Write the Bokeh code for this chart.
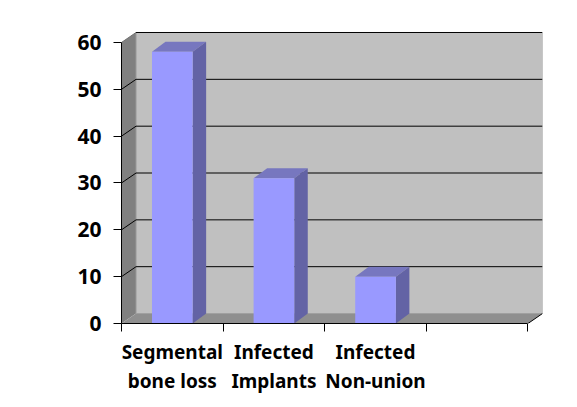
from bokeh.plotting import figure
from bokeh.models import Range1d, FixedTicker, LinearAxis
from bokeh.embed import file_html
from bokeh.resources import INLINE

categories = ["Segmental\nbone loss", "Infected\nImplants", "Infected\nNon-union"]
values = [58, 31, 10]
y_ticks = [0, 10, 20, 30, 40, 50, 60]
n_slots = 4

BAR_W = 0.4
WALL_DX = 0.143
WALL_DY = 2.13
BAR_DX = 0.133
HEAD = 0.2135

p = figure(width=565, height=397, output_backend="svg", toolbar_location=None,
           x_range=Range1d(0, n_slots + WALL_DX), y_range=Range1d(0, 60 + WALL_DY + HEAD),
           x_axis_type=None, y_axis_type=None,
           min_border_left=121, min_border_right=23, min_border_top=31, min_border_bottom=74,
           outline_line_color=None, background_fill_color="white", border_fill_color="white")
p.grid.visible = False

# walls
p.patch([0, WALL_DX, WALL_DX, 0], [0, WALL_DY, 60 + WALL_DY, 60], fill_color="#808080", line_color=None)
p.patch([0, n_slots, n_slots + WALL_DX, WALL_DX], [0, 0, WALL_DY, WALL_DY], fill_color="#8f8f8f", line_color=None)
p.patch([WALL_DX, n_slots + WALL_DX, n_slots + WALL_DX, WALL_DX],
        [WALL_DY, WALL_DY, 60 + WALL_DY, 60 + WALL_DY], fill_color="#C0C0C0", line_color=None)
p.line([n_slots + WALL_DX] * 2, [WALL_DY, 60 + WALL_DY], line_color="#a0a0a0", line_width=1)
p.line([WALL_DX] * 2, [WALL_DY, 60 + WALL_DY], line_color="#9a9a9a", line_width=1)
p.line([WALL_DX, n_slots + WALL_DX], [WALL_DY, WALL_DY], line_color="#a0a0a0", line_width=1)
p.line([0, WALL_DX], [60, 60 + WALL_DY], line_color="#707070", line_width=1)

# gridlines
for t in y_ticks[1:]:
    p.line([WALL_DX, n_slots + WALL_DX], [t + WALL_DY] * 2, line_color="black", line_width=1)
    if t < 60:
        p.line([0, WALL_DX], [t, t + WALL_DY], line_color="black", line_width=1)
p.line([n_slots, n_slots + WALL_DX], [0, WALL_DY], line_color="black", line_width=1)

# bars
for i, v in enumerate(values):
    l = i + 0.5 - BAR_W / 2
    r = i + 0.5 + BAR_W / 2
    p.patch([l, r, r + BAR_DX, l + BAR_DX], [v, v, v + WALL_DY, v + WALL_DY], fill_color="#7777BF", line_color=None)
    p.patch([r, r + BAR_DX, r + BAR_DX, r], [0, WALL_DY, v + WALL_DY, v], fill_color="#6363A5", line_color=None)
    p.patch([l, r, r, l], [0, 0, v, v], fill_color="#9999FF", line_color=None)

FONT = "Noto Sans"

ya = LinearAxis(ticker=FixedTicker(ticks=y_ticks), bounds=(0, 60))
ya.axis_line_color = "black"
ya.major_tick_line_color = "black"
ya.major_tick_out = 8
ya.major_tick_in = 0
ya.minor_tick_line_color = None
ya.major_label_standoff = 12
ya.major_label_text_font = FONT
ya.major_label_text_font_style = "bold"
ya.major_label_text_font_size = "21px"
ya.major_label_text_color = "black"
p.add_layout(ya, "left")

xa = LinearAxis(ticker=FixedTicker(ticks=[i + 0.5 for i in range(len(categories))],
                                   minor_ticks=list(range(n_slots + 1))),
                bounds=(0, n_slots))
xa.major_label_overrides = {i + 0.5: c for i, c in enumerate(categories)}
xa.axis_line_color = "black"
xa.major_tick_line_color = None
xa.major_tick_out = 0
xa.major_tick_in = 0
xa.minor_tick_line_color = "black"
xa.minor_tick_out = 8
xa.minor_tick_in = 0
xa.major_label_standoff = 7
xa.major_label_text_line_height = 1.12
xa.major_label_text_font = FONT
xa.major_label_text_font_style = "bold"
xa.major_label_text_font_size = "19px"
xa.major_label_text_color = "black"
xa.major_label_text_align = "center"
p.add_layout(xa, "below")

open("out.html", "w").write(file_html(p, INLINE))
